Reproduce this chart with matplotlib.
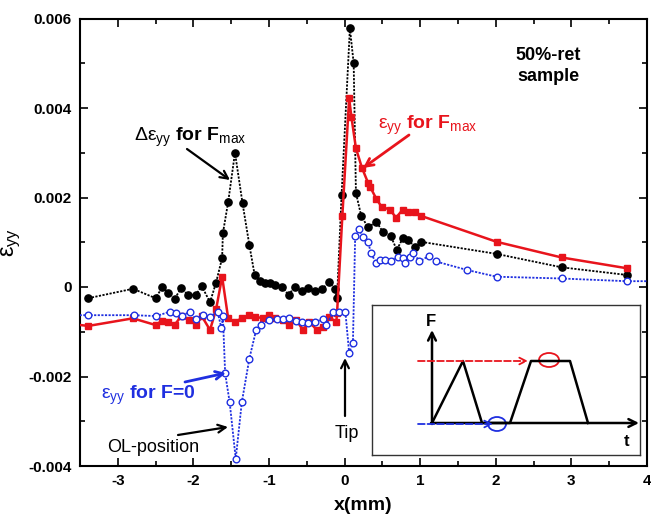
import matplotlib
matplotlib.use("Agg")
import matplotlib.pyplot as plt
from matplotlib.ticker import MultipleLocator, FixedLocator, FixedFormatter
from matplotlib.patches import Ellipse

plt.rcParams['font.family'] = ['Liberation Sans', 'DejaVu Sans']
plt.rcParams['mathtext.fontset'] = 'custom'
plt.rcParams['mathtext.rm'] = 'Liberation Sans'
plt.rcParams['mathtext.it'] = 'Liberation Sans'
plt.rcParams['mathtext.bf'] = 'Liberation Sans:bold'

# ---- data ----
# Delta eps_yy for Fmax (black, filled circles, dotted)
bx = [-3.39, -2.80, -2.50, -2.41, -2.33, -2.25, -2.16, -2.07, -1.97, -1.89, -1.78, -1.70,
      -1.62, -1.61, -1.54, -1.45, -1.35, -1.26, -1.19, -1.12, -1.05, -0.99, -0.92, -0.83,
      -0.74, -0.66, -0.57, -0.49, -0.39, -0.30, -0.20, -0.13, -0.10, -0.04, 0.07, 0.12,
      0.15, 0.22, 0.31, 0.42, 0.51, 0.61, 0.69, 0.77, 0.84, 0.93, 1.01, 2.01, 2.87, 3.73]
by = [-0.00025, -0.00004, -0.00025, 0.0, -0.00013, -0.00027, -0.00002, -0.00018, -0.00018,
      0.00002, -0.00034, 0.0001, 0.00065, 0.0012, 0.0019, 0.0030, 0.00187, 0.00094, 0.00027,
      0.00014, 0.0001, 0.00008, 0.00004, 0.00001, -0.00018, 0.00001, -0.00009, -0.00003,
      -0.00009, -0.00005, 0.00012, -0.00005, -0.00025, 0.00206, 0.00578, 0.0050, 0.0021,
      0.00159, 0.00133, 0.00146, 0.00122, 0.00114, 0.00083, 0.00109, 0.00105, 0.0009,
      0.00101, 0.00074, 0.00044, 0.00027]

# eps_yy for Fmax (red, filled squares, solid)
rx = [-3.6, -3.39, -2.80, -2.50, -2.41, -2.33, -2.25, -2.16, -2.06, -1.96, -1.89, -1.78, -1.70,
      -1.62, -1.54, -1.45, -1.36, -1.26, -1.19, -1.08, -1.00, -0.92, -0.82, -0.73, -0.64,
      -0.55, -0.47, -0.37, -0.29, -0.20, -0.11, -0.10, -0.03, 0.06, 0.09, 0.15, 0.23, 0.31,
      0.34, 0.42, 0.49, 0.60, 0.68, 0.77, 0.84, 0.93, 1.01, 2.01, 2.87, 3.73]
ry = [-0.00083, -0.00087, -0.0007, -0.00085, -0.00075, -0.00078, -0.00085, -0.00065, -0.00074,
      -0.00085, -0.00065, -0.00096, -0.0005, 0.00023, -0.0007, -0.00078, -0.0007, -0.00063,
      -0.00066, -0.0007, -0.00063, -0.0007, -0.00074, -0.00085, -0.00074, -0.00096,
      -0.00078, -0.00095, -0.00089, -0.00068, -0.00078, -0.00059, 0.00158, 0.00422, 0.0038,
      0.0031, 0.00266, 0.00233, 0.00223, 0.00197, 0.00179, 0.00173, 0.00155, 0.00173,
      0.00168, 0.00168, 0.00159, 0.00101, 0.00066, 0.00042]

# eps_yy for F=0 (blue, open circles, dotted)
ux = [-3.6, -3.39, -2.79, -2.49, -2.31, -2.23, -2.15, -2.05, -1.97, -1.87, -1.78, -1.68, -1.63,
      -1.61, -1.58, -1.52, -1.44, -1.36, -1.26, -1.17, -1.10, -1.00, -0.90, -0.82, -0.73,
      -0.64, -0.57, -0.49, -0.39, -0.29, -0.24, -0.15, -0.08, 0.01, 0.06, 0.11, 0.14, 0.19,
      0.24, 0.31, 0.35, 0.42, 0.47, 0.53, 0.61, 0.70, 0.77, 0.80, 0.86, 0.91, 0.99, 1.11,
      1.21, 1.62, 2.01, 2.87, 3.73, 4.2]
uy = [-0.00063, -0.00063, -0.00063, -0.00065, -0.00055, -0.00057, -0.00065, -0.00055, -0.00072,
      -0.00063, -0.00066, -0.00055, -0.00092, -0.00065, -0.00193, -0.00258, -0.00384,
      -0.00258, -0.0016, -0.00096, -0.00085, -0.00074, -0.00072, -0.00072, -0.0007,
      -0.00076, -0.00078, -0.0008, -0.00078, -0.00072, -0.00085, -0.00055, -0.00055,
      -0.00055, -0.00147, -0.00126, 0.00115, 0.0013, 0.00112, 0.00101, 0.00075, 0.00053,
      0.0006, 0.0006, 0.00059, 0.00068, 0.00064, 0.00053, 0.00066, 0.00077, 0.00057,
      0.00069, 0.00057, 0.00038, 0.00023, 0.00019, 0.00013, 0.00013]

xticks = [-3, -2, -1, 0, 1, 2, 3, 4]
xticklabels = ['-3', '-2', '-1', '0', '1', '2', '3', '4']
yticks = [-0.004, -0.002, 0, 0.002, 0.004, 0.006]
yticklabels = ['-0.004', '-0.002', '0', '0.002', '0.004', '0.006']

# inset schematic (inset pixel frame)
sch_t = [432, 463, 482, 510, 531, 570, 588]
sch_f = [423, 361, 423, 423, 361, 361, 423]

W, H = 651, 523
fig = plt.figure(figsize=(W / 100, H / 100), dpi=100)
ax = fig.add_axes([80 / W, 1 - 466 / H, 567 / W, 447.5 / H])

ax.plot(bx, by, color='black', ls=(0, (1.2, 0.8)), lw=1.3, marker='o', ms=5.2,
        mfc='black', mec='black', zorder=3)
ax.plot(rx, ry, color='#e8141c', ls='-', lw=1.8, marker='s', ms=4.6,
        mfc='#e8141c', mec='#e8141c', zorder=4)
ax.plot(ux, uy, color='#1f2fe0', ls=(0, (1.2, 0.8)), lw=1.3, marker='o', ms=4.8,
        mfc='white', mec='#1f2fe0', mew=1.0, zorder=5)

ax.set_xlim(-3.5, 4)
ax.set_ylim(-0.004, 0.006)
ax.xaxis.set_major_locator(FixedLocator(xticks))
ax.xaxis.set_major_formatter(FixedFormatter(xticklabels))
ax.xaxis.set_minor_locator(MultipleLocator(0.5))
ax.yaxis.set_major_locator(FixedLocator(yticks))
ax.yaxis.set_major_formatter(FixedFormatter(yticklabels))
ax.yaxis.set_minor_locator(MultipleLocator(0.001))
ax.tick_params(which='both', direction='in', top=True, right=True, width=1.2)
ax.tick_params(which='major', length=6, labelsize=11, pad=6)
ax.tick_params(which='minor', length=3.5)
for lab in ax.get_xticklabels() + ax.get_yticklabels():
    lab.set_fontweight('bold')
for s in ax.spines.values():
    s.set_linewidth(1.5)

ax.set_xlabel('x(mm)', fontsize=14, fontweight='bold', labelpad=6)
ax.set_ylabel(r'$\varepsilon_{yy}$', fontsize=17, labelpad=4)


def px2d(px, py):
    return ((px - 344.6) / 75.6, (287 - py) * 0.002 / 89.5)


def arrow(tail, head, color, lw):
    ax.annotate('', xy=px2d(*head), xytext=px2d(*tail),
                arrowprops=dict(arrowstyle='->', color=color, lw=lw,
                                shrinkA=0, shrinkB=0, mutation_scale=14), zorder=6)


fs = 14
ax.text(*px2d(190, 137), r'$\Delta\varepsilon_{yy}$ for F$_{\rm max}$', fontsize=fs,
        fontweight='bold', ha='center', va='center', color='black')
arrow((187, 149), (230, 180), 'black', 1.6)

ax.text(*px2d(428, 125), r'$\varepsilon_{yy}$ for F$_{\rm max}$', fontsize=fs,
        fontweight='bold', ha='center', va='center', color='#e8141c')
arrow((409, 135), (363, 168), '#e8141c', 2.0)

ax.text(*px2d(148, 395), r'$\varepsilon_{yy}$ for F=0', fontsize=fs,
        fontweight='bold', ha='center', va='center', color='#1f2fe0')
arrow((185, 382), (226, 373), '#1f2fe0', 2.0)

ax.text(*px2d(153, 447), 'OL-position', fontsize=13, ha='center', va='center',
        color='black')
arrow((178, 435), (228, 427), 'black', 1.6)

ax.text(*px2d(347, 433), 'Tip', fontsize=13, ha='center', va='center', color='black')
arrow((345, 416), (345, 358), 'black', 1.6)

ax.text(*px2d(548, 66), '50%-ret\nsample', fontsize=13, fontweight='bold',
        ha='center', va='center', linespacing=1.25, color='black')

# ---- inset ----
L, R, T, B = 372, 640, 305, 455
iax = fig.add_axes([L / W, 1 - B / H, (R - L) / W, (B - T) / H])
iax.set_xlim(L, R)
iax.set_ylim(B, T)
iax.set_xticks([])
iax.set_yticks([])
for s in iax.spines.values():
    s.set_linewidth(1.0)
    s.set_color('#333333')
iax.set_zorder(10)

iax.plot(sch_t, sch_f, color='black', lw=1.8)
iax.annotate('', xy=(432, 330), xytext=(432, 424),
             arrowprops=dict(arrowstyle='->', color='black', lw=1.8, shrinkA=0, shrinkB=0,
                             mutation_scale=14))
iax.annotate('', xy=(639, 423), xytext=(431, 423),
             arrowprops=dict(arrowstyle='->', color='black', lw=1.8, shrinkA=0, shrinkB=0,
                             mutation_scale=14))
iax.text(431, 321, 'F', fontsize=12, fontweight='bold', ha='center', va='center')
iax.text(627, 441, 't', fontsize=12, fontweight='bold', ha='center', va='center')
iax.annotate('', xy=(528, 361), xytext=(418, 361),
             arrowprops=dict(arrowstyle='->', color='#e8141c', lw=1.3, ls='--',
                             shrinkA=0, shrinkB=0, mutation_scale=12))
iax.annotate('', xy=(493, 424), xytext=(418, 424),
             arrowprops=dict(arrowstyle='->', color='#1f2fe0', lw=1.3, ls='--',
                             shrinkA=0, shrinkB=0, mutation_scale=12))
iax.add_patch(Ellipse((549, 360), 20, 14, fill=False, ec='#e8141c', lw=1.3))
iax.add_patch(Ellipse((497, 424), 18, 14, fill=False, ec='#1f2fe0', lw=1.3))

ax.text(*px2d(414, 361), r'F$_{\rm max}$', fontsize=13, fontweight='bold', ha='right',
        va='center', color='#e8141c', zorder=12)
ax.text(*px2d(414, 424), 'F=0', fontsize=12.5, fontweight='bold', ha='right',
        va='center', color='black', zorder=12)

fig.savefig('out.png', dpi=100)
